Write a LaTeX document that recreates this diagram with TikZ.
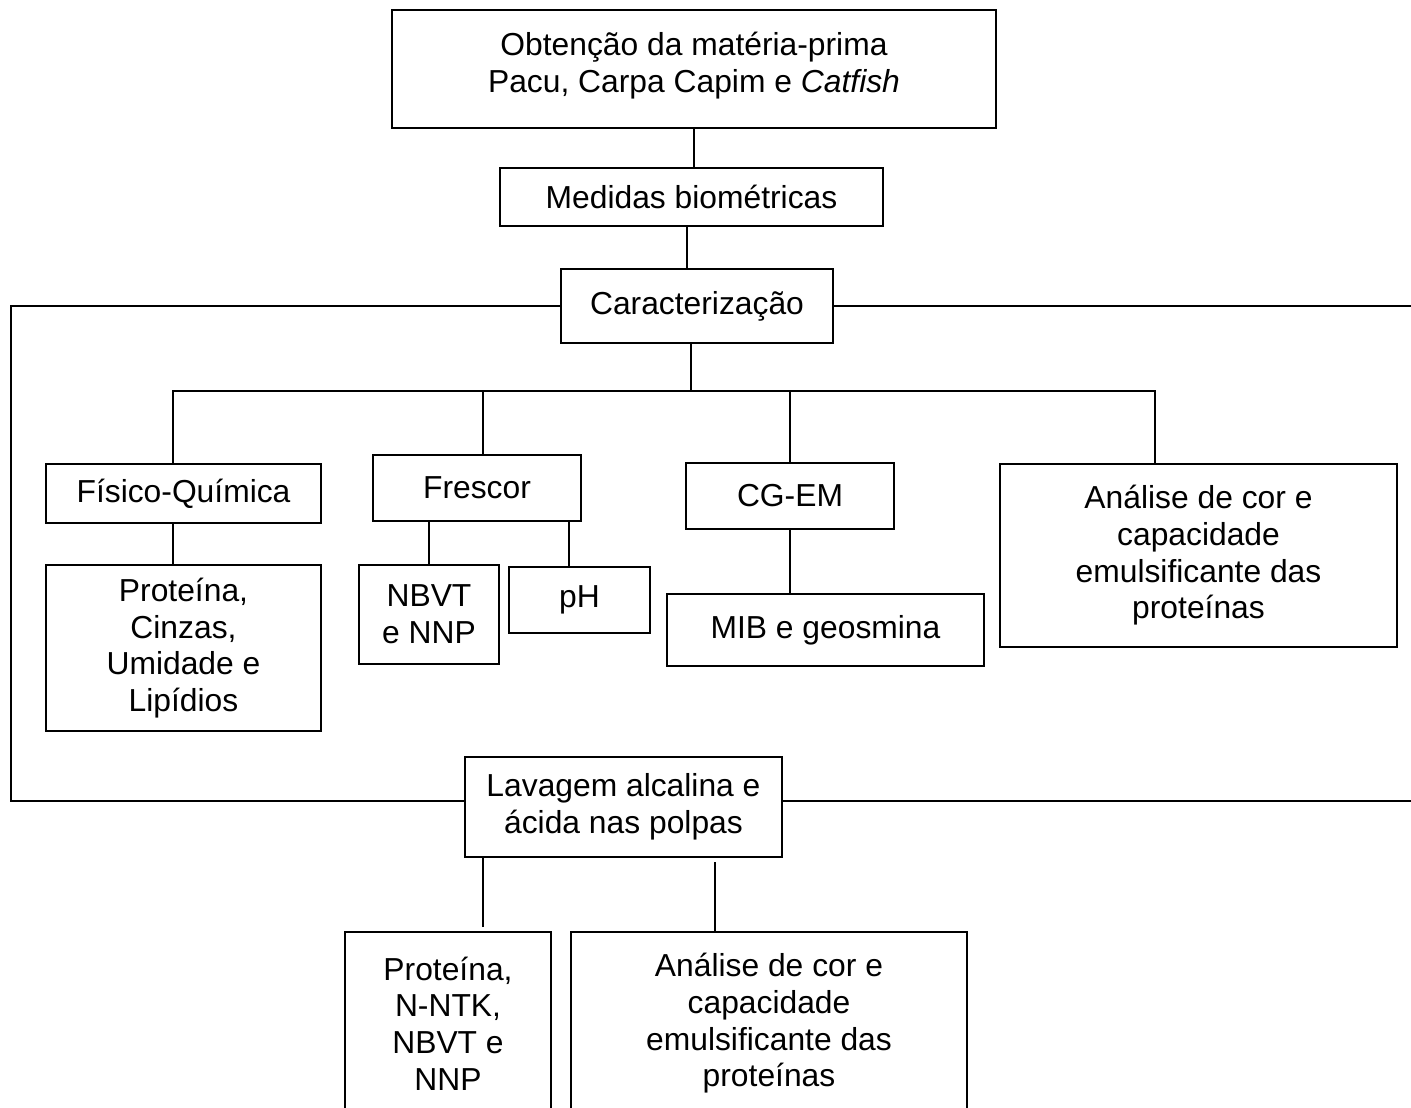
\documentclass[tikz,border=0pt]{standalone}
\usepackage{fontspec}
\setmainfont{Liberation Sans}
\begin{document}
\begin{tikzpicture}[x=0.02cm, y=-0.02cm, line width=1.1pt,
  box/.style={draw, rectangle, line width=1.1pt, align=center, inner sep=0pt, font=\fontsize{18.1}{20.9}\selectfont}]
\useasboundingbox (0,0) rectangle (1411,1108);
\node[box, minimum width=12.08cm, minimum height=2.36cm] (obt) at (694,69) {Obtenção da matéria-prima\\Pacu, Carpa Capim e \textit{Catfish}\\[-0.48cm]};
\node[box, minimum width=7.66cm, minimum height=1.16cm] (med) at (691.5,197) {Medidas biométricas};
\node[box, minimum width=5.44cm, minimum height=1.48cm] (car) at (697,306) {Caracterização};
\node[box, minimum width=5.5cm, minimum height=1.18cm] (fq) at (183.5,493.5) {Físico-Química};
\node[box, minimum width=5.5cm, minimum height=3.32cm] (prot) at (183.5,648) {Proteína,\\Cinzas,\\Umidade e\\Lipídios};
\node[box, minimum width=4.16cm, minimum height=1.32cm] (fre) at (477,488) {Frescor};
\node[box, minimum width=2.8cm, minimum height=1.98cm] (nb) at (429,614.5) {NBVT\\e NNP};
\node[box, minimum width=2.82cm, minimum height=1.32cm] (ph) at (579.5,600) {pH};
\node[box, minimum width=4.16cm, minimum height=1.32cm] (cg) at (790,496) {CG-EM};
\node[box, minimum width=6.34cm, minimum height=1.44cm] (mib) at (825.5,630) {MIB e geosmina};
\node[box, minimum width=7.94cm, minimum height=3.66cm] (cor) at (1198.5,555.5) {Análise de cor e\\capacidade\\emulsificante das\\proteínas};
\node[box, minimum width=6.34cm, minimum height=2.0cm] (lav) at (623.5,807) {Lavagem alcalina e\\ácida nas polpas};
\node[box, minimum width=4.12cm, minimum height=3.66cm] (prot2) at (448,1023.5) {Proteína,\\N-NTK,\\NBVT e\\NNP};
\node[box, minimum width=7.92cm, minimum height=3.66cm] (cor2) at (769,1023.5) {Análise de cor e\\capacidade\\emulsificante das\\proteínas};
\coordinate (bus) at (691,391);
\coordinate (ledge) at (11,801);
\coordinate (rtop) at (1415,306);
\coordinate (rbot) at (1415,801);
\draw (obt.south) -- (obt.south |- med.north);
\draw ([xshift=-0.09cm]med.south) -- ([xshift=-0.09cm]med.south |- car.north);
\draw (car.west) -| (ledge) -- ([yshift=0.12cm]lav.west);
\draw (car.east) -- (rtop);
\draw ([yshift=0.12cm]lav.east) -- (rbot);
\draw ([xshift=-0.12cm]car.south) -- (bus);
\draw ([xshift=-0.21cm]fq.north) |- (bus) -| ([xshift=-0.87cm]cor.north);
\draw ([xshift=0.12cm]fre.north) -- ([xshift=0.12cm]fre.north |- bus);
\draw (cg.north) -- (cg.north |- bus);
\draw ([xshift=-0.21cm]fq.south) -- ([xshift=-0.21cm]prot.north);
\draw (nb.north) -- (nb.north |- fre.south);
\draw ([xshift=-0.21cm]ph.north) -- ([xshift=-0.21cm]ph.north |- fre.south);
\draw (cg.south) -- (cg.south |- mib.north);
\draw [shorten <=0.08cm] ([xshift=0.7cm]prot2.north) -- ([xshift=0.7cm]prot2.north |- lav.south);
\draw [shorten >=0.08cm] ([xshift=-1.08cm]cor2.north) -- ([xshift=-1.08cm]cor2.north |- lav.south);
\end{tikzpicture}
\end{document}
